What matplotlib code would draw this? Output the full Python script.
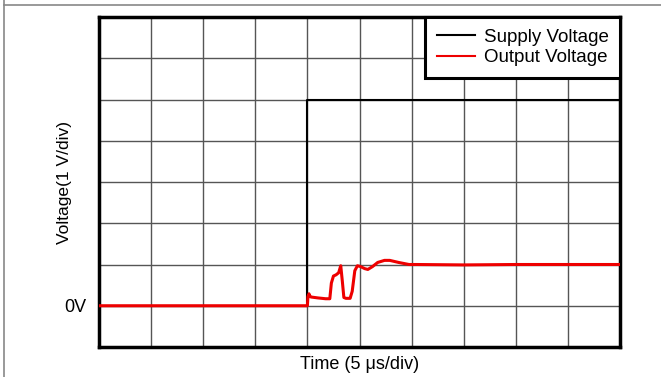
import matplotlib
matplotlib.use("Agg")
import matplotlib.pyplot as plt
from matplotlib.lines import Line2D

plt.rcParams['font.family'] = ['Liberation Sans', 'DejaVu Sans']

# Data (divisions: x in 5 us/div, y in 1 V/div)
supply_t = [0, 4.0, 4.0, 10]
supply_v = [0, 0, 5, 5]

output_t = [0, 4.0, 4.01, 4.03, 4.05, 4.08, 4.2, 4.35, 4.43, 4.46, 4.50, 4.55,
            4.60, 4.64, 4.67, 4.70, 4.74, 4.82, 4.86, 4.91, 4.96, 5.02, 5.10,
            5.16, 5.25, 5.35, 5.48, 5.58, 5.75, 5.95, 6.1, 7, 8, 9, 10]
output_v = [0, 0, 0.22, 0.29, 0.22, 0.21, 0.19, 0.17, 0.17, 0.55, 0.72, 0.75,
            0.80, 0.97, 0.60, 0.20, 0.18, 0.18, 0.35, 0.85, 0.97, 0.95, 0.90,
            0.88, 0.95, 1.05, 1.10, 1.10, 1.05, 1.0, 1.0, 0.99, 1.0, 1.0, 1.0]

x_ticks = list(range(0, 11))
y_ticks = list(range(-1, 8))
y_tick_labels = ["" if v != 0 else "0V" for v in y_ticks]

fig = plt.figure(figsize=(6.61, 3.77), dpi=100)
ax = fig.add_axes([99/661, 30/377, 521/661, 330/377])

ax.plot(supply_t, supply_v, color='black', lw=1.5, label='Supply Voltage', zorder=3)
ax.plot(output_t, output_v, color='#ee0000', lw=2.2, label='Output Voltage', zorder=4)

ax.set_xlim(0, 10)
ax.set_ylim(-1, 7)
ax.set_xticks(x_ticks)
ax.set_xticklabels([])
ax.set_yticks(y_ticks)
ax.set_yticklabels(y_tick_labels, fontsize=13)
ax.tick_params(length=0, pad=9)
ax.grid(True, color='#555555', lw=1.0)
ax.set_axisbelow(True)
for s in ax.spines.values():
    s.set_linewidth(2.5)
    s.set_color('black')

ax.set_xlabel('Time (5 \u03bcs/div)', fontsize=13, va='top')
ax.xaxis.set_label_coords(0.5, -0.026)
ax.set_ylabel('Voltage(1 V/div)', fontsize=12.5)
ax.yaxis.set_label_coords(-0.052, 0.5)

leg = ax.legend(loc='upper right', borderaxespad=0, fontsize=13.5, fancybox=False,
                framealpha=1, edgecolor='black', handlelength=2.0,
                handletextpad=0.48, borderpad=0.62, labelspacing=0.18)
leg.get_frame().set_linewidth(2.2)
leg.set_zorder(10)
for h in leg.get_lines():
    h.set_linewidth(1.5)

# Outer frame lines
fig.add_artist(Line2D([4/661, 4/661], [0, 1], transform=fig.transFigure, color='#888888', lw=1.2))
fig.add_artist(Line2D([4/661, 1], [1 - 5/377, 1 - 5/377], transform=fig.transFigure, color='#888888', lw=1.2))

fig.savefig('out.png', dpi=100)
